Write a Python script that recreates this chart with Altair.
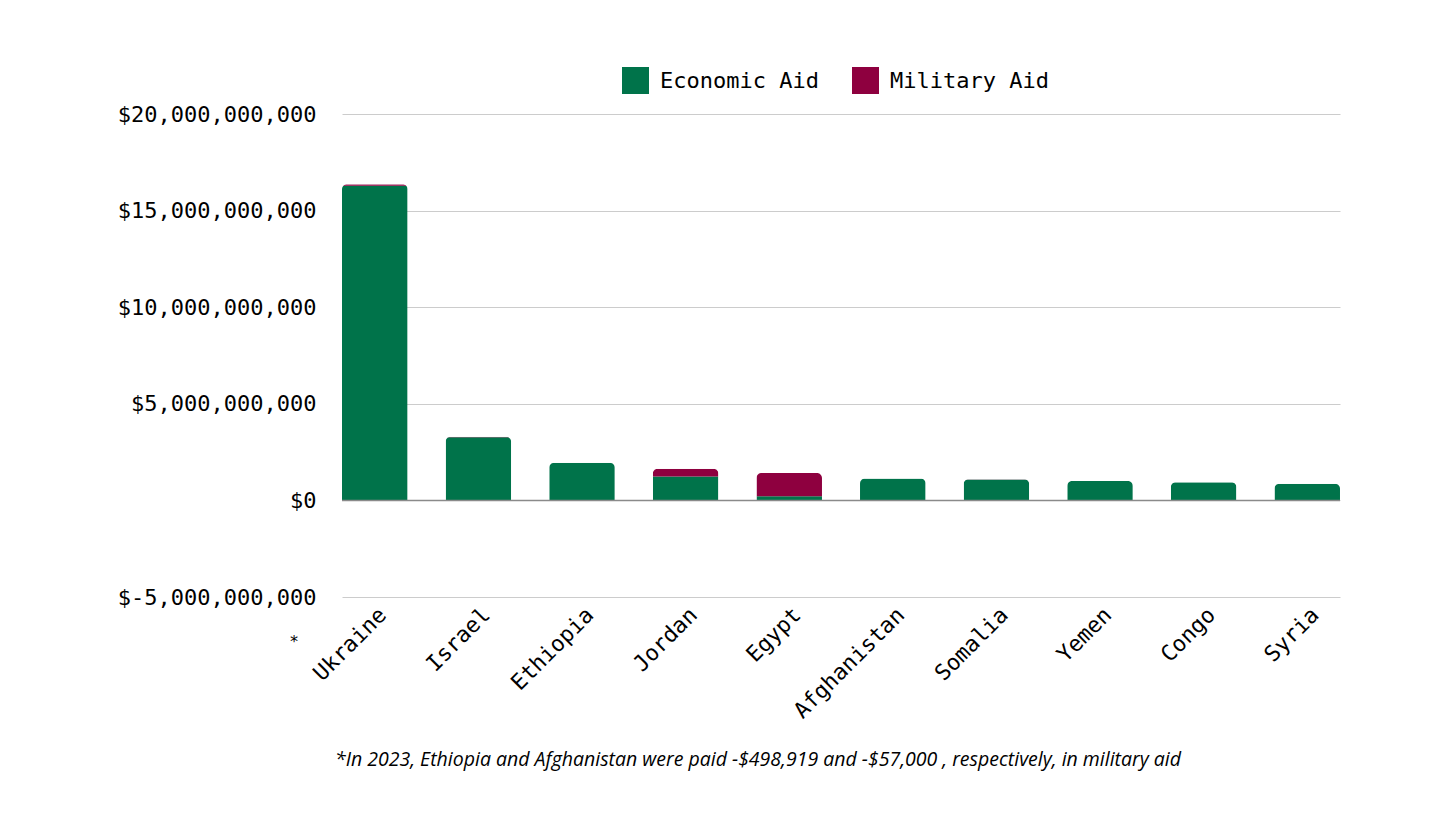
import altair as alt
import pandas as pd

countries = ["Ukraine", "Israel", "Ethiopia", "Jordan", "Egypt",
             "Afghanistan", "Somalia", "Yemen", "Congo", "Syria"]
economic = [16.28e9, 3.27e9, 1.95e9, 1.24e9, 0.22e9,
            1.14e9, 1.08e9, 1.01e9, 0.94e9, 0.86e9]
military = [0.08e9, 0.02e9, 0.0, 0.40e9, 1.20e9,
            0.0, 0.01e9, 0.0, 0.0, 0.0]
series = ["Economic Aid", "Military Aid"]
colors = ["#00734A", "#8E003F"]
footnote = "*In 2023, Ethiopia and Afghanistan were paid -$498,919 and -$57,000 , respectively, in military aid"

rows = []
for c, e, m in zip(countries, economic, military):
    rows.append({"country": c, "type": series[0], "value": e, "ord": 0})
    rows.append({"country": c, "type": series[1], "value": m, "ord": 1})
df = pd.DataFrame(rows)

MONO = "DejaVu Sans Mono"

y_label = "datum.value < 0 ? '$-' + format(-datum.value, ',') : '$' + format(datum.value, ',')"

bars = alt.Chart(df).mark_bar(cornerRadiusTopLeft=5, cornerRadiusTopRight=5).encode(
    x=alt.X("country:N", sort=countries, title=None,
            scale=alt.Scale(paddingInner=0.367, paddingOuter=0),
            axis=alt.Axis(labelAngle=-45, labelAlign="right", labelBaseline="middle",
                          labelFont=MONO, labelFontSize=22, labelColor="#000000",
                          labelPadding=14, labelOffset=8, ticks=False, domain=False,
                          labelLimit=400)),
    y=alt.Y("value:Q", stack="zero", title=None,
            scale=alt.Scale(domain=[-5e9, 20e9], nice=False),
            axis=alt.Axis(values=[-5e9, 0, 5e9, 10e9, 15e9, 20e9], labelExpr=y_label,
                          labelFont=MONO, labelFontSize=22, labelColor="#000000",
                          labelPadding=26, ticks=False, domain=False,
                          grid=True, gridColor="#cccccc", gridWidth=1, labelLimit=400)),
    color=alt.Color("type:N", scale=alt.Scale(domain=series, range=colors),
                    legend=alt.Legend(title=None, orient="none", direction="horizontal",
                                      legendX=280, legendY=-47, symbolType="square",
                                      symbolSize=729, symbolStrokeWidth=0,
                                      labelFont=MONO, labelFontSize=22, labelColor="#000000",
                                      labelOffset=11, columnPadding=33, padding=0,
                                      labelLimit=400)),
    order=alt.Order("ord:Q"),
)

zero = alt.Chart(pd.DataFrame({"z": [0]})).mark_rule(color="#8a8a8a", strokeWidth=1.5).encode(
    y="z:Q"
)

star = alt.Chart(pd.DataFrame({"t": ["*"]})).mark_text(
    font=MONO, fontSize=16, color="#000000", align="center", baseline="middle"
).encode(text="t:N", x=alt.value(-48), y=alt.value(528))

note = alt.Chart(pd.DataFrame({"t": [footnote]})).mark_text(
    font="Open Sans", fontStyle="italic", fontSize=19.5, color="#000000",
    align="center", baseline="middle"
).encode(text="t:N", x=alt.value(416), y=alt.value(646))

chart = alt.layer(bars, zero, star, note).properties(
    width=998, height=483,
    background="#ffffff",
    autosize=alt.AutoSizeParams(type="none"),
    padding={"left": 334, "top": 106, "right": 108, "bottom": 200},
).configure_view(strokeWidth=0, stroke=None)

chart.save("out.html", embed_options={"renderer": "svg", "actions": False})
